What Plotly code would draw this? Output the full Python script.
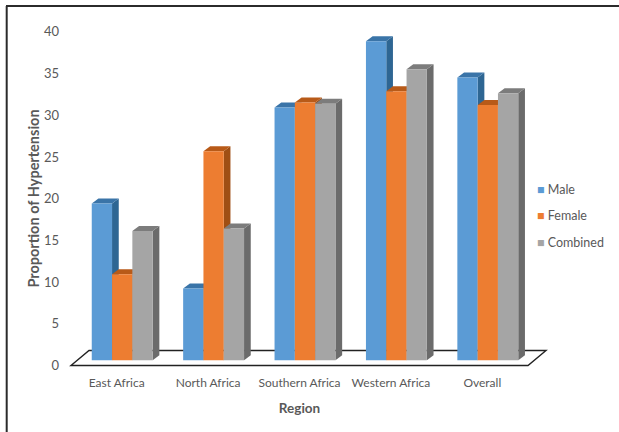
import plotly.graph_objects as go

regions = ["East Africa", "North Africa", "Southern Africa", "Western Africa", "Overall"]
male = [18.8, 8.6, 30.3, 38.25, 33.9]
female = [10.3, 25.05, 30.9, 32.25, 30.6]
combined = [15.5, 15.8, 30.75, 34.9, 32.0]

series = [
    ("Male", male, "#5B9BD5", "#3A74A8", "#2E6693"),
    ("Female", female, "#ED7D31", "#B85A18", "#A04F14"),
    ("Combined", combined, "#A5A5A5", "#7C7C7C", "#6B6B6B"),
]

W, H = 619, 432
L, R, T, B = 50, 549, 25, 372       # plot area in px
UX, UY = 91.4, 8.34                 # px per category / per unit
X0, Y0 = 71, 365.5                  # px of x=-0.5 and y=0

xr = [-0.5 + (L - X0) / UX, -0.5 + (R - X0) / UX]
yr = [(Y0 - B) / UY, (Y0 - T) / UY]

bar_w = 20.3 / UX
shift = 5.5 / UX
depth_x, depth_y = 6.7 / UX, 5 / UY
lift = 5.3 / UY
floor_x, floor_y = 18 / UX, 15 / UY

fig = go.Figure()
shapes = []
for j, (name, vals, front, top, side) in enumerate(series):
    off = shift + (j - 1.5) * bar_w
    fig.add_trace(go.Bar(
        name=name, x=list(range(len(regions))), y=vals, base=lift,
        width=bar_w, offset=off, marker=dict(color=front, line_width=0), showlegend=False,
    ))
    for i, v in enumerate(vals):
        x1, x2 = i + off, i + off + bar_w
        yt = v + lift
        shapes.append(dict(type="path", layer="below", xref="x", yref="y", line_width=0, fillcolor=side,
            path=f"M{x2},{lift} L{x2+depth_x},{lift+depth_y} L{x2+depth_x},{yt+depth_y} L{x2},{yt} Z"))
        shapes.append(dict(type="path", layer="below", xref="x", yref="y", line_width=0, fillcolor=top,
            path=f"M{x1},{yt} L{x1+depth_x},{yt+depth_y} L{x2+depth_x},{yt+depth_y} L{x2},{yt} Z"))

floor = dict(type="path", layer="below", xref="x", yref="y", line=dict(color="#222222", width=1.4),
    path=f"M-0.5,0 L4.5,0 L{4.5+floor_x},{floor_y} L{-0.5+floor_x},{floor_y} Z")
frame = [
    dict(type="line", xref="paper", yref="paper", x0=(6.7-L)/(R-L), x1=(6.7-L)/(R-L),
         y0=(B-6)/(B-T), y1=(B-H)/(B-T), line=dict(color="#2b2b2b", width=2)),
    dict(type="line", xref="paper", yref="paper", x0=(6-L)/(R-L), x1=(W-L)/(R-L),
         y0=(B-6)/(B-T), y1=(B-6)/(B-T), line=dict(color="#2b2b2b", width=2)),
]
legend_notes = [
    dict(xref="paper", yref="paper", xanchor="left", yanchor="middle", showarrow=False,
         x=(535-L)/(R-L), y=(B-yp)/(B-T), align="left", font=dict(size=12.5, color="#595959"),
         text=f'<span style="color:{s[2]}">■</span> {s[0]}')
    for s, yp in zip(series, [189, 215.5, 242])
]
fig.update_layout(
    width=W, height=H, autosize=False,
    margin=dict(l=L, r=W-R, t=T, b=H-B, pad=0, autoexpand=False),
    paper_bgcolor="white", plot_bgcolor="rgba(0,0,0,0)",
    barmode="overlay", shapes=[floor] + shapes + frame, annotations=legend_notes,
    showlegend=False,
    font=dict(family="Lato", color="#595959", size=12),
    xaxis=dict(range=xr, tickmode="array", tickvals=list(range(len(regions))), ticktext=regions,
               showgrid=False, zeroline=False, showline=False, ticks="", tickfont=dict(size=12),
               ticklabelstandoff=2,
               title=dict(text="<b>Region</b>", standoff=14, font=dict(size=13.5, color="#595959"))),
    yaxis=dict(range=yr, tickmode="array", tickvals=[0,5,10,15,20,25,30,35,40],
               showgrid=False, zeroline=False, showline=False, ticks="", tickfont=dict(size=13),
               ticklabelstandoff=-10,
               title=dict(text="<b>Proportion of Hypertension</b>", standoff=0, font=dict(size=14.5, color="#595959"))),
)
fig.write_html("out.html", config={"displayModeBar": False},
               post_script="document.body.style.margin='0';document.body.style.overflow='hidden';")
